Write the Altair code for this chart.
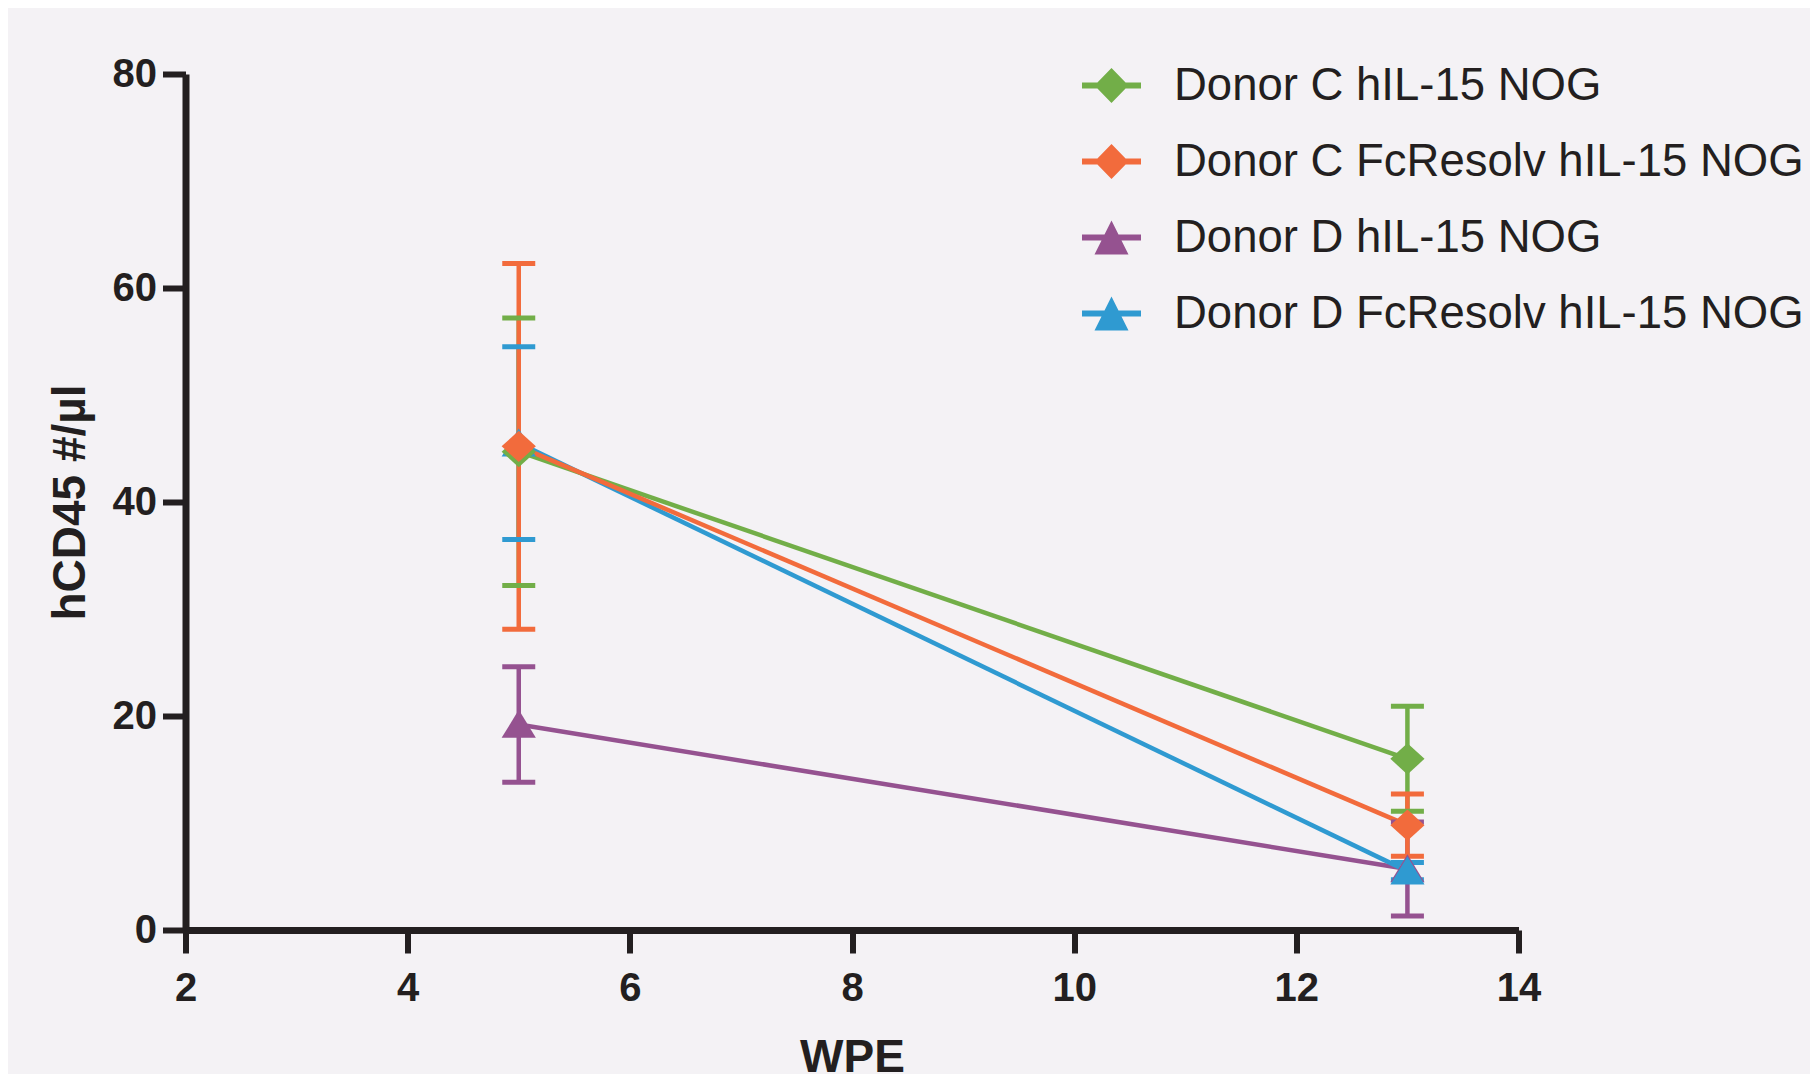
import altair as alt
import pandas as pd

# ---- data ----
series = ["Donor C hIL-15 NOG", "Donor C FcResolv hIL-15 NOG",
          "Donor D hIL-15 NOG", "Donor D FcResolv hIL-15 NOG"]
colors = ["#72ae48", "#f26b3c", "#955290", "#2f9ad1"]
wpe = [5, 13]
mean_c_hil = [44.7, 16.0]
sem_c_hil = [12.5, 4.9]
mean_c_fc = [45.2, 9.8]
sem_c_fc = [17.1, 2.9]
mean_d_hil = [19.2, 5.7]
sem_d_hil = [5.4, 4.4]
mean_d_fc = [45.5, 5.5]
sem_d_fc = [9.0, 0.8]
x_ticks = [2, 4, 6, 8, 10, 12, 14]
y_ticks = [0, 20, 40, 60, 80]
draw_order = ["Donor D hIL-15 NOG", "Donor D FcResolv hIL-15 NOG",
              "Donor C hIL-15 NOG", "Donor C FcResolv hIL-15 NOG"]

means = {series[0]: mean_c_hil, series[1]: mean_c_fc, series[2]: mean_d_hil, series[3]: mean_d_fc}
sems = {series[0]: sem_c_hil, series[1]: sem_c_fc, series[2]: sem_d_hil, series[3]: sem_d_fc}

rows = []
for s in draw_order:
    for i, w in enumerate(wpe):
        m = means[s][i]
        e = sems[s][i]
        rows.append({"series": s, "wpe": w, "mean": m, "lo": m - e, "hi": m + e})
df = pd.DataFrame(rows)

INK = "#231f20"
BG = "#f4f2f5"

diamond = "M0,-0.53L0.58,0L0,0.53L-0.58,0Z"
triangle = "M0,-0.5L0.58,0.45L-0.58,0.45Z"
bar = "M-1,-0.1L1,-0.1L1,0.1L-1,0.1Z "
leg_diamond = bar + "M0,-0.59L0.576,0L0,0.59L-0.576,0Z"
leg_triangle = bar + "M0,-0.576L0.576,0.576L-0.576,0.576Z"

color_scale = alt.Scale(domain=series, range=colors)

x_enc = alt.X("wpe:Q", title="WPE",
              scale=alt.Scale(domain=[2, 14], nice=False, zero=False),
              axis=alt.Axis(values=x_ticks, labelPadding=15, titlePadding=27, labelFlush=False))
y_enc = alt.Y("mean:Q", title="hCD45 #/µl",
              scale=alt.Scale(domain=[0, 80], nice=False),
              axis=alt.Axis(values=y_ticks, labelPadding=6, titlePadding=18, labelFlush=False))

base = alt.Chart(df)

lines = base.mark_line(strokeWidth=4.5).encode(
    x=x_enc, y=y_enc,
    color=alt.Color("series:N", scale=color_scale, legend=None),
    detail="series:N",
)
rules = base.mark_rule(strokeWidth=4.5).encode(
    x=x_enc, y=alt.Y("lo:Q"), y2="hi:Q",
    color=alt.Color("series:N", scale=color_scale, legend=None),
)
caps_hi = base.mark_tick(orient="horizontal", size=33, thickness=5, opacity=1).encode(
    x=x_enc, y=alt.Y("hi:Q"),
    color=alt.Color("series:N", scale=color_scale, legend=None),
)
caps_lo = base.mark_tick(orient="horizontal", size=33, thickness=5, opacity=1).encode(
    x=x_enc, y=alt.Y("lo:Q"),
    color=alt.Color("series:N", scale=color_scale, legend=None),
)
points = base.mark_point(filled=True, opacity=1, size=3481, strokeWidth=0).encode(
    x=x_enc, y=y_enc,
    color=alt.Color("series:N", scale=color_scale, legend=None),
    shape=alt.Shape("series:N", scale=alt.Scale(domain=series,
                    range=[diamond, diamond, triangle, triangle]), legend=None),
)

data_layer = alt.layer(lines, rules, caps_hi, caps_lo, points)

leg = alt.Legend(title=None, orient="none", legendX=896.5, legendY=-18,
                 symbolSize=3481, symbolStrokeWidth=0, symbolOpacity=1,
                 labelFont="Liberation Sans", labelFontSize=45.5, labelColor=INK,
                 labelFontWeight="normal", labelOffset=33, rowPadding=23,
                 labelLimit=2000, padding=0)

legend_layer = base.transform_filter("false").mark_point(
    filled=True, opacity=1, size=3481, strokeWidth=0).encode(
    x=x_enc, y=y_enc,
    color=alt.Color("series:N", scale=alt.Scale(domain=series, range=colors), legend=leg),
    shape=alt.Shape("series:N", scale=alt.Scale(domain=series,
                    range=[leg_diamond, leg_diamond, leg_triangle, leg_triangle]), legend=leg),
)

chart = alt.layer(data_layer, legend_layer).resolve_scale(
    color="independent", shape="independent"
).properties(
    width=1333, height=856,
    autosize=alt.AutoSizeParams(type="none"),
    padding={"left": 177.5, "top": 66, "right": 291.5, "bottom": 144},
    background=BG,
).configure_view(stroke=None).configure_axis(
    grid=False,
    domainColor=INK, domainWidth=7,
    tickColor=INK, tickWidth=6, tickSize=23,
    labelFont="Liberation Sans", labelFontSize=40, labelFontWeight="bold", labelColor=INK,
    titleFont="Liberation Sans", titleFontSize=46, titleFontWeight="bold", titleColor=INK,
)

chart.save("out.html", embed_options={"renderer": "svg", "actions": False})
